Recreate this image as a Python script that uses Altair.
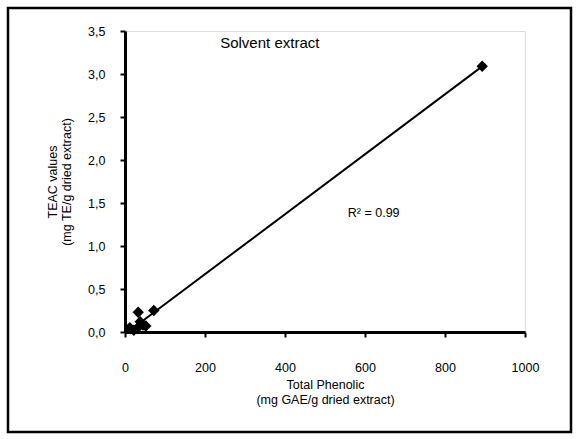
import altair as alt
import pandas as pd

phenolic = [12, 22, 30, 38, 45, 52, 33, 72, 893]
teac = [0.05, 0.02, 0.04, 0.12, 0.08, 0.07, 0.23, 0.25, 3.09]

df = pd.DataFrame({"x": phenolic, "y": teac})

FONT = "Liberation Sans"

xscale = alt.Scale(domain=[0, 1000], nice=False, zero=True)
yscale = alt.Scale(domain=[0, 3.5], nice=False, zero=True)

base = alt.Chart(df)

points = base.mark_point(shape="diamond", filled=True, color="black", size=130, opacity=1).encode(
    x=alt.X("x:Q", scale=xscale,
            axis=alt.Axis(title=["Total Phenolic", "(mg GAE/g dried extract)"],
                          values=[0, 200, 400, 600, 800, 1000], format="d",
                          labelPadding=24, titlePadding=5)),
    y=alt.Y("y:Q", scale=yscale,
            axis=alt.Axis(title=["TEAC values", "(mg TE/g dried extract)"],
                          values=[0, 0.5, 1.0, 1.5, 2.0, 2.5, 3.0, 3.5],
                          labelExpr="replace(format(datum.value, '.1f'), '.', ',')",
                          labelPadding=15, titlePadding=14)),
)

trend = base.transform_regression("x", "y").mark_line(color="black", strokeWidth=2).encode(
    x=alt.X("x:Q", scale=xscale), y=alt.Y("y:Q", scale=yscale)
)

title_df = pd.DataFrame({"x": [362], "y": [3.36], "t": ["Solvent extract"]})
title_txt = alt.Chart(title_df).mark_text(font=FONT, fontSize=15, color="black", align="center", baseline="middle").encode(
    x=alt.X("x:Q", scale=xscale), y=alt.Y("y:Q", scale=yscale), text="t:N"
)

r2_df = pd.DataFrame({"x": [557], "y": [1.38], "t": ["R² = 0.99"]})
r2_txt = alt.Chart(r2_df).mark_text(font=FONT, fontSize=12.5, color="black", align="left", baseline="middle").encode(
    x=alt.X("x:Q", scale=xscale), y=alt.Y("y:Q", scale=yscale), text="t:N"
)

frame = alt.Chart(pd.DataFrame({"a": [0]})).mark_rect(
    fill=None, stroke="black", strokeWidth=2.5, clip=False
).encode(
    x=alt.value(-117), x2=alt.value(446), y=alt.value(-23), y2=alt.value(401)
)

chart = alt.layer(frame, trend, points, title_txt, r2_txt).properties(
    width=400, height=301,
    autosize=alt.AutoSizeParams(type="none"),
    padding={"left": 125, "top": 31, "right": 54, "bottom": 107},
).configure_view(stroke=None).configure(background="white").configure_axis(
    grid=False, domainColor="#000000", domainWidth=3, domainOpacity=1,
    tickColor="#000000", tickWidth=2, tickSize=5, tickOpacity=1,
    labelFont=FONT, labelFontSize=12.5, labelColor="#000000", labelFlush=False,
    titleFont=FONT, titleFontSize=12.5, titleFontWeight="normal", titleColor="#000000",
)

chart.save("out.html", embed_options={"renderer": "svg", "actions": False})
